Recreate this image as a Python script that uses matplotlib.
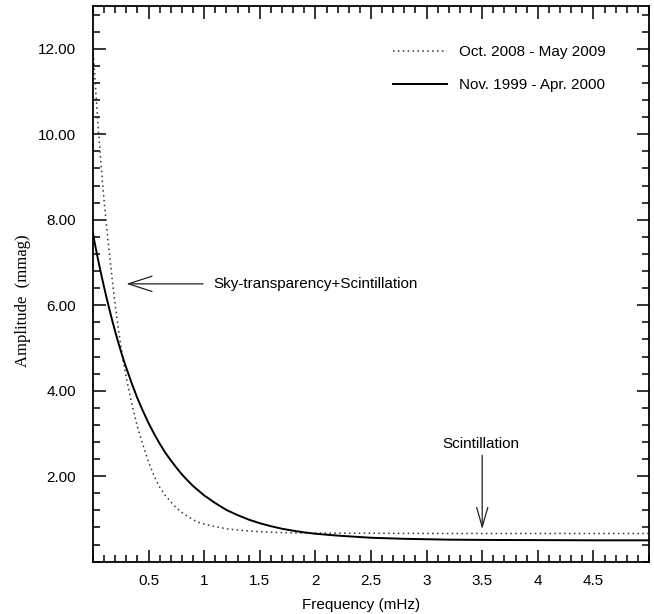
import numpy as np
import matplotlib
matplotlib.use("Agg")
import matplotlib.pyplot as plt
from matplotlib.ticker import MultipleLocator, FixedLocator

# Values
freq = [0.0, 0.025, 0.05, 0.075, 0.1, 0.125, 0.15, 0.175, 0.2, 0.225, 0.25, 0.275,
        0.3, 0.35, 0.4, 0.45, 0.5, 0.55, 0.6, 0.65, 0.7, 0.75, 0.8, 0.85, 0.9, 0.95,
        1.0, 1.1, 1.2, 1.3, 1.4, 1.5, 1.6, 1.7, 1.8, 1.9, 2.0, 2.2, 2.5, 2.8, 3.2,
        3.6, 4.0, 4.5, 5.0]
amp_2008 = [12.0, 11.0, 10.05, 9.2, 8.44, 7.76, 7.15, 6.55, 6.0, 5.5, 5.05, 4.65,
            4.3, 3.68, 3.15, 2.72, 2.33, 2.0, 1.74, 1.55, 1.40, 1.26, 1.15, 1.06, 0.98, 0.92,
            0.88, 0.82, 0.77, 0.74, 0.72, 0.70, 0.69, 0.68, 0.675, 0.672, 0.67, 0.667, 0.665, 0.663, 0.66,
            0.66, 0.66, 0.66, 0.66]
amp_1999 = [7.67, 7.33, 7.01, 6.71, 6.42, 6.14, 5.88, 5.62, 5.38, 5.15, 4.93, 4.72,
            4.53, 4.16, 3.82, 3.52, 3.24, 2.99, 2.76, 2.55, 2.37, 2.20, 2.04, 1.90, 1.77, 1.66,
            1.55, 1.37, 1.21, 1.09, 0.985, 0.90, 0.83, 0.77, 0.725, 0.685, 0.653, 0.61, 0.56, 0.535, 0.515,
            0.508, 0.505, 0.50, 0.50]
label_2008 = "Oct. 2008 - May 2009"
label_1999 = "Nov. 1999 - Apr. 2000"
xticks = [0.5, 1, 1.5, 2, 2.5, 3, 3.5, 4, 4.5]
xticklabels = ["0.5", "1", "1.5", "2", "2.5", "3", "3.5", "4", "4.5"]
yticks = [2, 4, 6, 8, 10, 12]
yticklabels = ["2.00", "4.00", "6.00", "8.00", "10.00", "12.00"]

sans = "Liberation Sans"
serif = "Liberation Serif"

fig = plt.figure(figsize=(6.54, 6.14), dpi=100)
ax = fig.add_axes([0.1422, 0.0852, 0.8502, 0.905])

ax.plot(freq, amp_2008, color="#333333", lw=1.1, linestyle=(0, (1, 2.2)), label=label_2008)
ax.plot(freq, amp_1999, color="black", lw=1.4, label=label_1999)

ax.set_xlim(0, 5)
ax.set_ylim(0, 13)

ax.xaxis.set_major_locator(FixedLocator(xticks))
ax.xaxis.set_minor_locator(MultipleLocator(0.1))
ax.yaxis.set_major_locator(FixedLocator(yticks))
ax.yaxis.set_minor_locator(MultipleLocator(0.4))
ax.set_xticklabels(xticklabels, fontfamily=sans, fontsize=11)
ax.set_yticklabels(yticklabels, fontfamily=sans, fontsize=11)
ax.tick_params(which="both", direction="in", top=True, right=True, width=1.1)
ax.tick_params(which="major", length=9)
ax.tick_params(which="minor", length=5)
ax.tick_params(axis="x", which="major", pad=9)
ax.tick_params(axis="y", which="major", pad=12)
for s in ax.spines.values():
    s.set_linewidth(1.3)

ax.set_xlabel("Frequency (mHz)", fontfamily=sans, fontsize=11)
ax.xaxis.set_label_coords(0.482, -0.065)
ax.set_ylabel("Amplitude  (mmag)", fontfamily=serif, fontsize=12)
ax.yaxis.set_label_coords(-0.112, 0.47)

# annotations
ax.annotate("", xy=(0.30, 6.5), xytext=(0.99, 6.5),
            arrowprops=dict(arrowstyle="->,head_length=1.7,head_width=0.55",
                            color="#222222", lw=0.9, mutation_scale=10,
                            shrinkA=0, shrinkB=0))
ax.text(1.08, 6.5, "Sky-transparency+Scintillation", fontfamily=sans, fontsize=11,
        ha="left", va="center")
ax.annotate("", xy=(3.5, 0.76), xytext=(3.5, 2.49),
            arrowprops=dict(arrowstyle="->,head_length=1.4,head_width=0.4",
                            color="#222222", lw=0.9, mutation_scale=10,
                            shrinkA=0, shrinkB=0))
ax.text(3.49, 2.75, "Scintillation", fontfamily=sans, fontsize=11,
        ha="center", va="center")

leg = ax.legend(loc="upper left", bbox_to_anchor=(0.54, 0.930), frameon=False,
                prop={"family": sans, "size": 11}, handlelength=3.5,
                handletextpad=0.8, labelspacing=1.25, borderpad=0, borderaxespad=0)

fig.savefig("out.png", dpi=100)
